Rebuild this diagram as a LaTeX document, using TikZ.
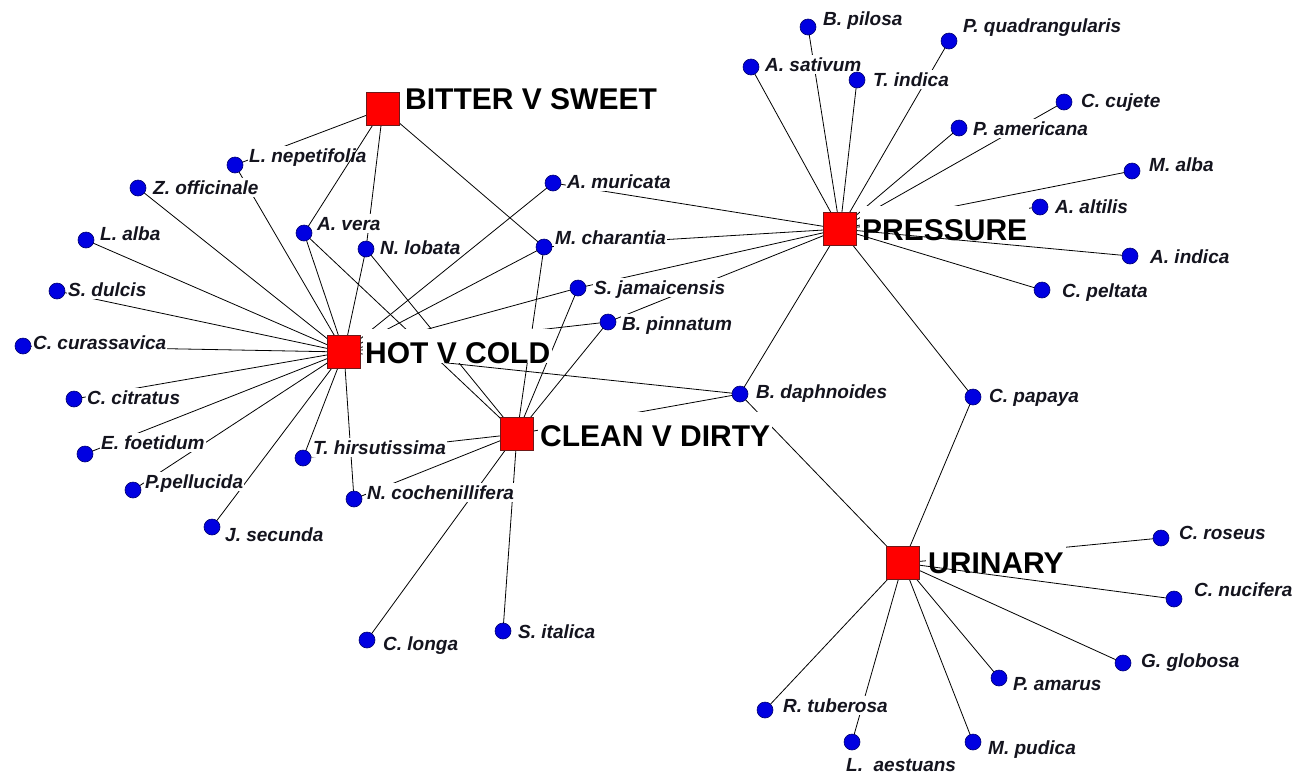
\documentclass[tikz,border=0pt]{standalone}
\usepackage{fontspec}
\setmainfont{Liberation Sans}

\pgfdeclarelayer{paper}
\pgfdeclarelayer{edgelayer}
\pgfdeclarelayer{labellayer}
\pgfdeclarelayer{upperedge}
\pgfsetlayers{paper,edgelayer,labellayer,upperedge,main}

\begin{document}
\begin{tikzpicture}[x=1pt,y=-1pt,
  plant/.style={circle,fill={rgb,255:red,0;green,0;blue,225},draw={rgb,255:red,0;green,0;blue,110},
    line width=0.6pt,minimum size=16pt,inner sep=0pt},
  hub/.style={rectangle,fill={rgb,255:red,255;green,0;blue,0},draw={rgb,255:red,110;green,25;blue,25},
    line width=0.8pt,minimum size=33pt,inner sep=0pt},
  plantname/.style={anchor=base west,fill=white,inner xsep=1pt,inner ysep=2pt,
    text height=14pt,text depth=1pt,font=\bfseries\itshape\fontsize{19}{19}\selectfont,
    text={rgb,255:red,20;green,20;blue,30}},
  hubname/.style={anchor=base west,fill=white,inner xsep=2pt,inner ysep=0pt,
    text height=34pt,text depth=0pt,font=\bfseries\fontsize{30}{30}\selectfont},
  link/.style={draw=black,line width=0.8pt}]

\useasboundingbox (0,0) rectangle (1296,777);
\begin{pgfonlayer}{paper}
\fill[white] (0,0) rectangle (1296,777);
\end{pgfonlayer}

% ---- category hubs ----
\node[hub] (Bit) at (383,109) {};
\node[hub] (Hot) at (344,352) {};
\node[hub] (Cln) at (517,434) {};
\node[hub] (Prs) at (840,229) {};
\node[hub] (Uri) at (903,563) {};

% ---- plant species ----
\node[plant] (Lnep)  at (235,165) {};
\node[plant] (Zoff)  at (138,188) {};
\node[plant] (Lalba) at (86,240) {};
\node[plant] (Sdul)  at (57,291) {};
\node[plant] (Ccur)  at (23,346) {};
\node[plant] (Ccit)  at (74,399) {};
\node[plant] (Efoe)  at (85,454) {};
\node[plant] (Ppel)  at (133,490) {};
\node[plant] (Jsec)  at (212,527) {};
\node[plant] (Avera) at (304,233) {};
\node[plant] (Nlob)  at (366,249) {};
\node[plant] (Amur)  at (553,183) {};
\node[plant] (Mchar) at (544,247) {};
\node[plant] (Sjam)  at (578,288) {};
\node[plant] (Bpin)  at (608,322) {};
\node[plant] (Thir)  at (303,458) {};
\node[plant] (Ncoch) at (354,499) {};
\node[plant] (Clon)  at (367,640) {};
\node[plant] (Sita)  at (503,631) {};
\node[plant] (Bdap)  at (740,394) {};
\node[plant] (Cpap)  at (973,397) {};
\node[plant] (Bpil)  at (808,27) {};
\node[plant] (Pqua)  at (949,41) {};
\node[plant] (Asat)  at (751,67) {};
\node[plant] (Tind)  at (857,80) {};
\node[plant] (Ccuj)  at (1064,102) {};
\node[plant] (Pame)  at (959,128) {};
\node[plant] (Malb)  at (1132,171) {};
\node[plant] (Aalt)  at (1040,207) {};
\node[plant] (Aind)  at (1130,256) {};
\node[plant] (Cpel)  at (1042,290) {};
\node[plant] (Cros)  at (1161,538) {};
\node[plant] (Cnuc)  at (1174,599) {};
\node[plant] (Gglo)  at (1123,663) {};
\node[plant] (Pama)  at (999,678) {};
\node[plant] (Rtub)  at (765,710) {};
\node[plant] (Laes)  at (852,742) {};
\node[plant] (Mpud)  at (973,742) {};

% ---- names ----
\begin{pgfonlayer}{labellayer}
\node[hubname] (Bit-l) at (403,109) {BITTER V SWEET};
\node[hubname] (Hot-l) at (363,363) {HOT V COLD};
\node[hubname] (Cln-l) at (538,446) {CLEAN V DIRTY};
\node[hubname] (Prs-l) at (860,240) {PRESSURE};
\node[hubname] (Uri-l) at (926,573) {URINARY};

\node[plantname] (Lnep-l)  at (248,162) {L. nepetifolia};
\node[plantname] (Zoff-l)  at (152,194) {Z. officinale};
\node[plantname] (Lalba-l) at (99,240) {L. alba};
\node[plantname] (Sdul-l)  at (67,296) {S. dulcis};
\node[plantname] (Ccur-l)  at (32,349) {C. curassavica};
\node[plantname] (Ccit-l)  at (86,404) {C. citratus};
\node[plantname] (Efoe-l)  at (100,449) {E. foetidum};
\node[plantname] (Ppel-l)  at (144,488) {P.pellucida};
\node[plantname] (Jsec-l)  at (224,541) {J. secunda};
\node[plantname] (Avera-l) at (316,230) {A. vera};
\node[plantname] (Nlob-l)  at (379,254) {N. lobata};
\node[plantname] (Amur-l)  at (566,188) {A. muricata};
\node[plantname] (Mchar-l) at (554,244) {M. charantia};
\node[plantname] (Sjam-l)  at (593,294) {S. jamaicensis};
\node[plantname] (Bpin-l)  at (621,330) {B. pinnatum};
\node[plantname] (Thir-l)  at (312,454) {T. hirsutissima};
\node[plantname] (Ncoch-l) at (366,499) {N. cochenillifera};
\node[plantname] (Clon-l)  at (382,650) {C. longa};
\node[plantname] (Sita-l)  at (517,638) {S. italica};
\node[plantname] (Bdap-l)  at (755,398) {B. daphnoides};
\node[plantname] (Cpap-l)  at (988,402) {C. papaya};
\node[plantname] (Bpil-l)  at (822,25) {B. pilosa};
\node[plantname] (Pqua-l)  at (962,32) {P. quadrangularis};
\node[plantname] (Asat-l)  at (764,71) {A. sativum};
\node[plantname] (Tind-l)  at (872,86) {T. indica};
\node[plantname] (Ccuj-l)  at (1080,107) {C. cujete};
\node[plantname] (Pame-l)  at (972,135) {P. americana};
\node[plantname] (Malb-l)  at (1148,171) {M. alba};
\node[plantname] (Aalt-l)  at (1054,213) {A. altilis};
\node[plantname] (Aind-l)  at (1149,263) {A. indica};
\node[plantname] (Cpel-l)  at (1061,297) {C. peltata};
\node[plantname] (Cros-l)  at (1178,539) {C. roseus};
\node[plantname] (Cnuc-l)  at (1193,596) {C. nucifera};
\node[plantname] (Gglo-l)  at (1140,667) {G. globosa};
\node[plantname] (Pama-l)  at (1012,690) {P. amarus};
\node[plantname] (Rtub-l)  at (782,712) {R. tuberosa};
\node[plantname] (Laes-l)  at (845,771) {L.\ \ aestuans};
\node[plantname] (Mpud-l)  at (987,754) {M. pudica};
\end{pgfonlayer}

% ---- links (under the names) ----
\begin{pgfonlayer}{edgelayer}
\foreach \p in {Lnep,Nlob,Mchar}
  \draw[link] (Bit.center) -- (\p.center);
\foreach \p in {Lnep,Zoff,Lalba,Sdul,Ccur,Ccit,Efoe,Ppel,Jsec,Avera,Nlob,Amur,Mchar,Sjam,Bpin,Thir,Ncoch,Bdap}
  \draw[link] (Hot.center) -- (\p.center);
\foreach \p in {Avera,Nlob,Mchar,Sjam,Bpin,Thir,Ncoch,Clon,Sita,Bdap}
  \draw[link] (Cln.center) -- (\p.center);
\foreach \p in {Amur,Mchar,Sjam,Bpin,Bdap,Cpap,Asat,Bpil,Tind,Pqua,Pame,Ccuj,Malb,Aalt}
  \draw[link] (Prs.center) -- (\p.center);
\foreach \p in {Bdap,Cpap,Cros,Gglo,Pama,Mpud,Laes,Rtub}
  \draw[link] (Uri.center) -- (\p.center);
\end{pgfonlayer}

% ---- links drawn over the names ----
\begin{pgfonlayer}{upperedge}
\draw[link] (Bit.center) -- (Avera.center);
\draw[link] (Prs.center) -- (Aind.center);
\draw[link] (Prs.center) -- (Cpel.center);
\draw[link] (Uri.center) -- (Cnuc.center);
\end{pgfonlayer}

\end{tikzpicture}
\end{document}
